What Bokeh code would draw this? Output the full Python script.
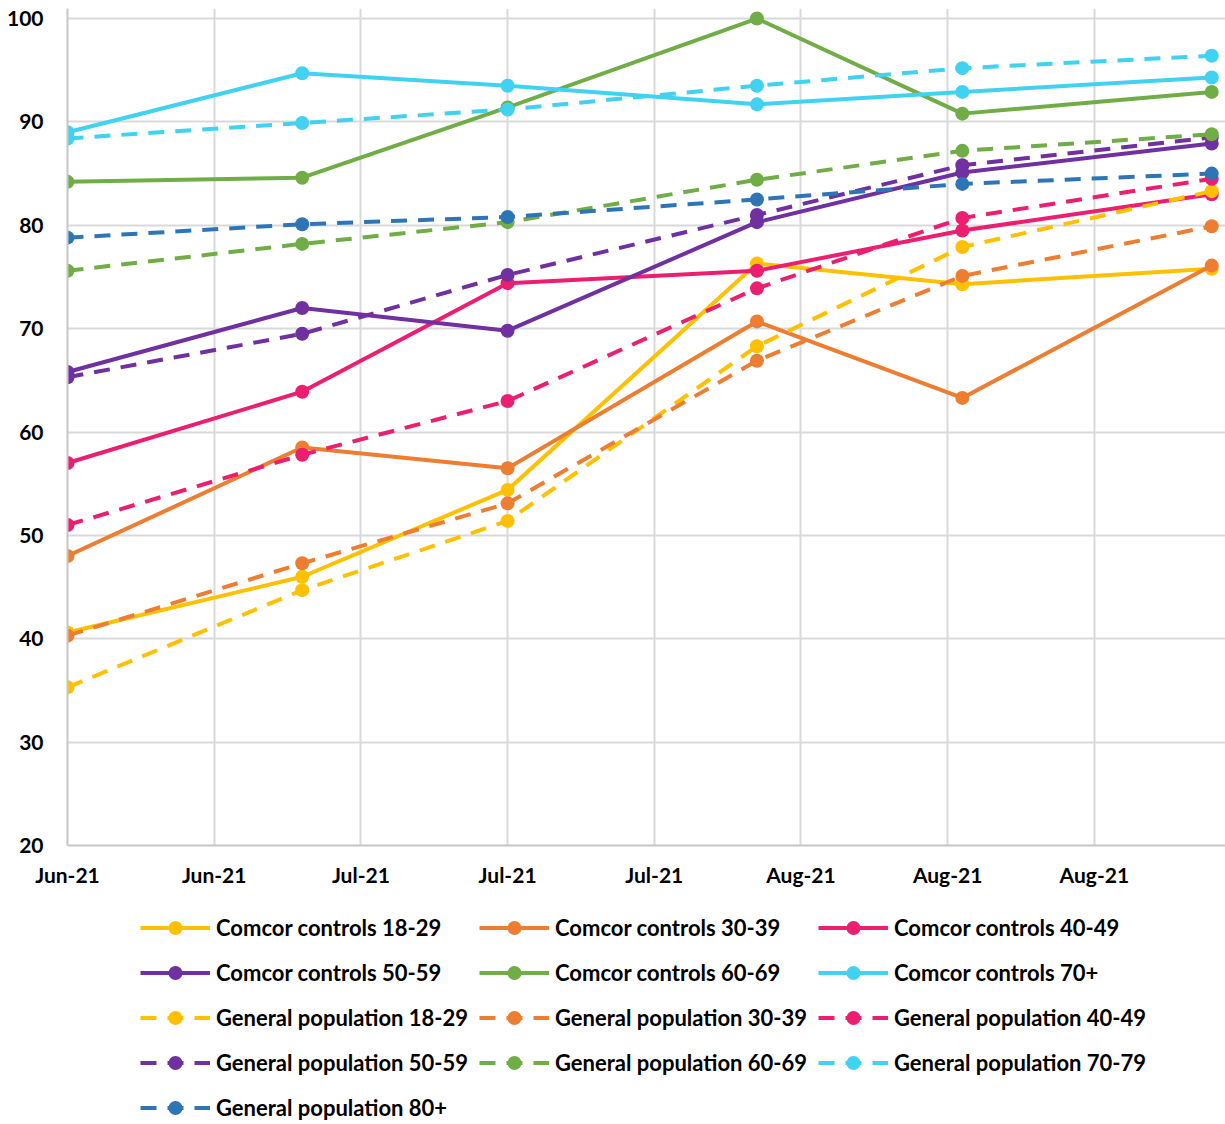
import pandas as pd
from bokeh.plotting import figure
from bokeh.layouts import column
from bokeh.models import (ColumnDataSource, FixedTicker, DatetimeTickFormatter,
                          Legend, LegendItem, Range1d)
from bokeh.embed import file_html
from bokeh.resources import INLINE

# ---------------- data ----------------
dates = ["2021-06-15", "2021-07-01", "2021-07-15", "2021-08-01", "2021-08-15", "2021-09-01"]

cc_18_29 = [40.6, 46.0, 54.4, 76.3, 74.3, 75.8]
cc_30_39 = [48.0, 58.5, 56.5, 70.7, 63.3, 76.1]
cc_40_49 = [57.0, 63.9, 74.4, 75.6, 79.5, 83.0]
cc_50_59 = [65.8, 72.0, 69.8, 80.3, 85.1, 87.9]
cc_60_69 = [84.2, 84.6, 91.4, 100.0, 90.8, 92.9]
cc_70 = [89.0, 94.7, 93.5, 91.7, 92.9, 94.3]
gp_18_29 = [35.3, 44.7, 51.4, 68.3, 77.9, 83.3]
gp_30_39 = [40.3, 47.3, 53.1, 66.9, 75.1, 79.9]
gp_40_49 = [51.0, 57.8, 63.0, 73.9, 80.7, 84.5]
gp_50_59 = [65.3, 69.5, 75.2, 81.0, 85.8, 88.5]
gp_60_69 = [75.6, 78.2, 80.3, 84.4, 87.2, 88.8]
gp_70_79 = [88.4, 89.9, 91.2, 93.5, 95.2, 96.4]
gp_80 = [78.8, 80.1, 80.8, 82.5, 84.0, 85.0]

labels = [
    "Comcor controls 18-29", "Comcor controls 30-39", "Comcor controls 40-49",
    "Comcor controls 50-59", "Comcor controls 60-69", "Comcor controls 70+",
    "General population 18-29", "General population 30-39", "General population 40-49",
    "General population 50-59", "General population 60-69", "General population 70-79",
    "General population 80+",
]
values = [cc_18_29, cc_30_39, cc_40_49, cc_50_59, cc_60_69, cc_70,
          gp_18_29, gp_30_39, gp_40_49, gp_50_59, gp_60_69, gp_70_79, gp_80]

YELLOW, ORANGE, PINK, PURPLE, GREEN, CYAN, BLUE = (
    "#FFC000", "#ED7D31", "#EC1E70", "#7030A0", "#70AD47", "#40D2F0", "#2E75B6")
colors = [YELLOW, ORANGE, PINK, PURPLE, GREEN, CYAN,
          YELLOW, ORANGE, PINK, PURPLE, GREEN, CYAN, BLUE]
dashes = ["solid"] * 6 + ["16 11"] * 7

y_ticks = [20, 30, 40, 50, 60, 70, 80, 90, 100]
tick_start = "2021-06-15"
tick_count = 8
tick_step = "10D"

# ---------------- main figure ----------------
x = pd.to_datetime(dates)
DAY = 86400000
start_ms = pd.Timestamp(tick_start).value // 10**6
tick_ms = [t.value // 10**6 for t in pd.date_range(tick_start, periods=tick_count, freq=tick_step)]

FONT = "Lato"
FS = "21px"
FS_LEG = "22px"
W = 1225
H_MAIN = 900
H_LEG = 224
LEFT = 67

p = figure(width=W, height=H_MAIN, x_axis_type="datetime",
           x_range=Range1d(start_ms, start_ms + 78.94 * DAY),
           y_range=Range1d(20, 100.97),
           output_backend="svg", toolbar_location=None,
           min_border_left=LEFT, min_border_right=0, min_border_top=8,
           min_border_bottom=55)
p.outline_line_color = None
p.background_fill_color = "white"
p.border_fill_color = "white"

xt = FixedTicker(ticks=tick_ms)
p.xaxis.ticker = xt
p.xgrid.ticker = xt
yt = FixedTicker(ticks=y_ticks)
p.yaxis.ticker = yt
p.ygrid.ticker = yt

fmt = "%b-%y"
p.xaxis.formatter = DatetimeTickFormatter(days=fmt, months=fmt, years=fmt, hours=fmt,
                                          hourmin=fmt, minutes=fmt, minsec=fmt,
                                          seconds=fmt, milliseconds=fmt,
                                          microseconds=fmt)

for ax in (p.xaxis, p.yaxis):
    ax.axis_line_color = "#C6C6C6"
    ax.axis_line_width = 2
    ax.major_tick_line_color = None
    ax.minor_tick_line_color = None
    ax.major_tick_out = 0
    ax.major_tick_in = 0
    ax.minor_tick_out = 0
    ax.minor_tick_in = 0
    ax.major_label_text_font = FONT
    ax.major_label_text_font_style = "bold"
    ax.major_label_text_font_size = FS
    ax.major_label_text_color = "black"
p.xaxis.major_label_standoff = 16
p.yaxis.major_label_standoff = 24

for g in (p.xgrid, p.ygrid):
    g.grid_line_color = "#D9D9D9"
    g.grid_line_width = 2

for lab, vals, col, dash in zip(labels, values, colors, dashes):
    src = ColumnDataSource(dict(x=x, y=vals))
    p.line("x", "y", source=src, line_color=col, line_width=4, line_dash=dash)
    p.scatter("x", "y", source=src, marker="circle", size=14,
              fill_color=col, line_color=None)

# ---------------- legend panel ----------------
lg = figure(width=W, height=H_LEG, x_range=Range1d(0, 1), y_range=Range1d(0, 1),
            output_backend="svg", toolbar_location=None,
            min_border_left=LEFT, min_border_right=0, min_border_top=0,
            min_border_bottom=0)
lg.axis.visible = False
lg.grid.visible = False
lg.outline_line_color = None

items = []
for lab, col, dash in zip(labels, colors, dashes):
    # off-screen sample glyphs used only for the legend swatches
    r_line = lg.line(x=[5, 6], y=[5, 5], line_color=col, line_width=4, line_dash=dash)
    r_pt = lg.scatter(x=[5], y=[5], marker="circle", size=14,
                      fill_color=col, line_color=None)
    items.append(LegendItem(label=lab, renderers=[r_line, r_pt]))

col_x = [140 - LEFT, 479 - LEFT, 818 - LEFT]
GH, SP = 35, 10
top = 9.5
for c in range(3):
    col_items = items[c::3]
    n = len(col_items)
    h = n * GH + (n - 1) * SP
    leg = Legend(items=col_items, location=(col_x[c], H_LEG - (top + h)),
                 orientation="vertical", padding=0, margin=0, spacing=SP,
                 glyph_width=70, glyph_height=GH, label_standoff=6,
                 label_text_font=FONT, label_text_font_style="bold",
                 label_text_font_size=FS_LEG, label_text_color="black",
                 border_line_color=None, background_fill_alpha=0)
    lg.add_layout(leg)

layout = column(p, lg, spacing=0)
open("out.html", "w").write(file_html(layout, INLINE))
